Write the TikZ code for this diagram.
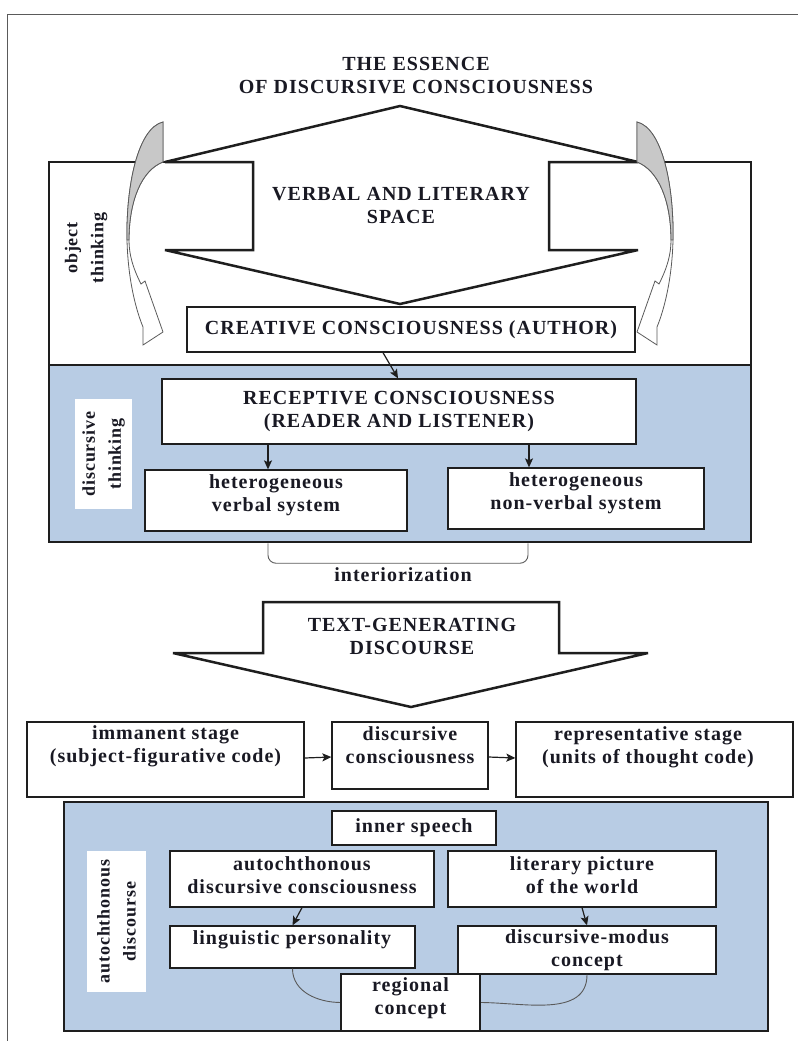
\documentclass[tikz,border=0pt]{standalone}
\usepackage{fontspec}
\setmainfont{Liberation Serif}[LetterSpace=5]
\usetikzlibrary{arrows.meta}
\definecolor{bluefill}{RGB}{184,204,228}
\definecolor{graypart}{RGB}{200,200,200}
\definecolor{linec}{RGB}{30,30,30}
\definecolor{textc}{RGB}{25,25,35}
\definecolor{framec}{RGB}{90,90,90}
\newcommand\mycurvearrow{%
  \filldraw[draw=framec, line width=0.8pt, fill=white]
    (163,122) .. controls (138,128) and (126,185) .. (127,240)
    .. controls (128,280) and (136,310) .. (143,327)
    -- (143,345) -- (163,332) -- (145,281) -- (141,284)
    .. controls (133,268) and (129,255) .. (129,240)
    .. controls (129,200) and (142,170) .. (163,162) -- cycle;
  \filldraw[draw=framec, line width=0.8pt, fill=graypart]
    (163,122) .. controls (138,128) and (126,185) .. (127,240)
    -- (129,240) .. controls (129,200) and (142,170) .. (163,162) -- cycle;
}
\begin{document}
\begin{tikzpicture}[x=1pt,y=-1pt,
  every node/.style={inner sep=0pt},
  txt/.style={font=\fontsize{20}{23}\selectfont\bfseries, align=center, text=textc},
  rtxt/.style={font=\fontsize{18}{26}\selectfont\bfseries, align=center, rotate=90, text=textc},
  box/.style={draw=linec, line width=1.3pt, fill=white},
  region/.style={draw=linec, line width=2.5pt},
  bigarrow/.style={draw=linec, line width=2.5pt, fill=white, line join=miter, miter limit=6},
  arr/.style={draw=linec, line width=1.2pt, -{Stealth[length=9pt,width=8pt,inset=2pt]}},
  thinl/.style={draw=framec, line width=0.9pt},
]
\useasboundingbox (0,0) rectangle (798,1041);
\draw[thinl] (7,1041) -- (7,14) -- (798,14);

% title
\node[txt] (title) at (416,75.5) {THE ESSENCE\\OF DISCURSIVE CONSCIOUSNESS};

% upper regions
\node[region, fill=white, minimum width=702pt, minimum height=203pt] (objreg) at (400,263.5) {};
\node[region, fill=bluefill, minimum width=702pt, minimum height=177pt] (discreg) at (400,453.5) {};

% double vertical arrow
\draw[bigarrow] (253,250) -- (253,162) -- (165,162) -- (400,106) -- (638,162) -- (549,162)
  -- (549,250) -- (638,250) -- (400,304) -- (165,250) -- cycle;
\node[txt] (vls) at (401,205) {VERBAL AND LITERARY\\SPACE};

% curved arrows
\mycurvearrow
\begin{scope}[xshift=800pt, xscale=-1]
\mycurvearrow
\end{scope}

\node[rtxt] (objlab) at (86,248) {object\\thinking};

\node[box, txt, minimum width=448pt, minimum height=45pt] (cre) at (411,329.5) {CREATIVE CONSCIOUSNESS (AUTHOR)};
\node[box, txt, minimum width=474pt, minimum height=65pt] (rec) at (399,411.5) {RECEPTIVE CONSCIOUSNESS\\(READER AND LISTENER)};
\draw[arr] ([xshift=-28pt]cre.south) -- ([xshift=-1pt]rec.north);

\node[rtxt, fill=white, minimum width=110pt, minimum height=57pt] (disclab) at (103.5,454) {discursive\\thinking};

\node[box, minimum width=262pt, minimum height=61pt] (verb) at (276,500.5) {};
\node[txt] (verbT) at (276,495) {heterogeneous\\verbal system};
\node[box, minimum width=256pt, minimum height=61pt] (nonv) at (576,498.5) {};
\node[txt] (nonvT) at (576,493) {heterogeneous\\non-verbal system};
\draw[arr] ([xshift=-8pt]verb.north |- rec.south) -- ([xshift=-8pt]verb.north);
\draw[arr] ([xshift=-47pt]nonv.north |- rec.south) -- ([xshift=-47pt]nonv.north);

% interiorization bracket
\draw[thinl, rounded corners=8pt] ([xshift=-132pt]discreg.south) -- ++(0,20) -- ++(260,0) -- ([xshift=128pt]discreg.south);
\node[txt] (inter) at (403,575) {interiorization};

% text-generating discourse arrow
\draw[bigarrow] (263,602) -- (559,602) -- (559,653) -- (648,653) -- (411,707) -- (173,653) -- (263,653) -- cycle;
\node[txt] (tgd) at (412,636.5) {TEXT-GENERATING\\DISCOURSE};

% row of stages
\node[box, minimum width=277pt, minimum height=75pt] (imm) at (165.5,759.5) {};
\node[txt] (immT) at (165.5,746.5) {immanent stage\\(subject-figurative code)};
\node[box, minimum width=156pt, minimum height=67pt] (dc) at (410,755.5) {};
\node[txt] (dcT) at (410,745) {discursive\\consciousness};
\node[box, minimum width=277pt, minimum height=75pt] (rep) at (654.5,759.5) {};
\node[txt] (repT) at (648,747) {representative stage\\(units of thought code)};
\draw[arr] ([yshift=1.5pt]imm.east) -- ([yshift=-1.5pt]dc.west);
\draw[arr] ([yshift=-1.5pt]dc.east) -- ([yshift=1.5pt]rep.west);

% bottom region
\node[region, fill=bluefill, minimum width=704pt, minimum height=229pt] (autoreg) at (416,916.5) {};
\node[rtxt, fill=white, minimum width=141pt, minimum height=59pt] (autolab) at (116.5,921.5) {autochthonous\\discourse};

\node[box, txt, minimum width=164pt, minimum height=34pt] (inner) at (414,828) {inner speech};
\node[box, minimum width=264pt, minimum height=56pt] (adc) at (302,879) {};
\node[txt] (adcT) at (302,875) {autochthonous\\discursive consciousness};
\node[box, minimum width=268pt, minimum height=56pt] (lit) at (582,879) {};
\node[txt] (litT) at (582,875.5) {literary picture\\of the world};
\node[box, minimum width=245pt, minimum height=42pt] (ling) at (292.5,947) {};
\node[txt] (lingT) at (292,940) {linguistic personality};
\node[box, txt, minimum width=258pt, minimum height=48pt] (dm) at (587,950) {discursive-modus\\concept};
\draw[arr] (adc.south) -- (ling.north);
\draw[arr] (lit.south) -- (dm.north);

\draw[thinl] (ling.south) to[out=-90, in=180] (341,1002.5) coordinate (regw);
\draw[thinl] (dm.south) to[out=-90, in=0] (480,1002.5) coordinate (rege);
\node[box, minimum width=139pt, minimum height=57pt] (reg) at (410.5,1002.5) {};
\node[txt] (regT) at (410.5,998) {regional\\concept};
\end{tikzpicture}
\end{document}
